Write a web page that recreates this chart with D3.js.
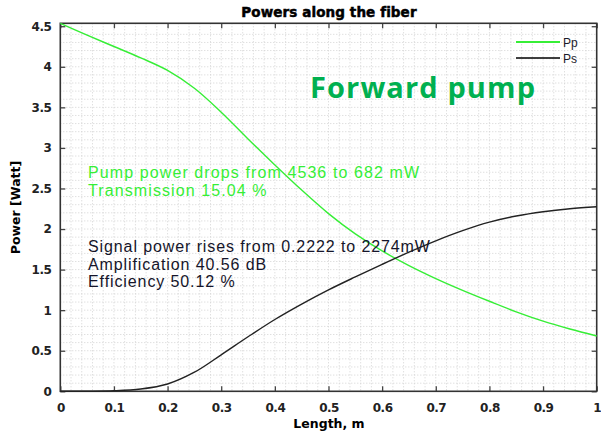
<!DOCTYPE html>
<html lang="en">
<head>
<meta charset="UTF-8">
<title>Powers along the fiber</title>
<script src="https://cdn.jsdelivr.net/npm/d3@7"></script>
<style>
    body { margin: 0; background: #fff; }
</style>
</head>
<body>
<div id="mainContent"></div>
<script>
    // values (length in m, power in W)
    const lengths = [0, 0.05, 0.1, 0.15, 0.2, 0.25, 0.3, 0.35, 0.4, 0.45, 0.5,
        0.55, 0.6, 0.65, 0.7, 0.75, 0.8, 0.85, 0.9, 0.95, 1];
    const pumpPower = [4.536, 4.39, 4.25, 4.11, 3.955, 3.735, 3.44, 3.11, 2.79, 2.48, 2.19,
        1.94, 1.73, 1.55, 1.39, 1.245, 1.11, 0.98, 0.865, 0.768, 0.682];
    const signalPower = [0.0002, 0.001, 0.006, 0.028, 0.09, 0.235, 0.45, 0.672, 0.885, 1.075, 1.25,
        1.41, 1.565, 1.715, 1.855, 1.98, 2.085, 2.16, 2.213, 2.25, 2.274];
    const xTicks = [0, 0.1, 0.2, 0.3, 0.4, 0.5, 0.6, 0.7, 0.8, 0.9, 1];
    const yTicks = [0, 0.5, 1, 1.5, 2, 2.5, 3, 3.5, 4, 4.5];
    const legendNames = ["Pp", "Ps"];
    const pumpNotes = ["Pump power drops from 4536 to 682 mW", "Transmission 15.04 %"];
    const signalNotes = ["Signal power rises from 0.2222 to 2274mW", "Amplification 40.56 dB", "Efficiency 50.12 %"];

    const W = 601, H = 435;
    const margin = {top: 23.3, right: 4.3, bottom: 43.7, left: 60.3};
    const width = W - margin.left - margin.right,
        height = H - margin.top - margin.bottom;

    const pumpColor = "#36ee36";
    const signalColor = "#222222";

    const xScale = d3.scaleLinear().domain([0, 1]).range([0, width]);
    const yScale = d3.scaleLinear().domain([0, 4.536]).range([height, 0]);

    const svg = d3.select("#mainContent").append("svg")
        .attr("width", W).attr("height", H)
        .style("font-family", "'Liberation Sans', Arial, sans-serif");

    const g = svg.append("g")
        .attr("transform", "translate(" + margin.left + "," + margin.top + ")");

    // fine dotted grid
    const grid = g.append("g").attr("class", "grid");
    grid.selectAll(".gx").data(d3.range(0.02, 1, 0.02)).enter()
        .append("line")
        .attr("x1", d => xScale(d)).attr("x2", d => xScale(d))
        .attr("y1", 0).attr("y2", height)
        .attr("stroke", "#d2d2d2").attr("stroke-width", 1)
        .attr("stroke-dasharray", "1,2");
    grid.selectAll(".gy").data(d3.range(0.1, 4.5, 0.1)).enter()
        .append("line")
        .attr("x1", 0).attr("x2", width)
        .attr("y1", d => yScale(d)).attr("y2", d => yScale(d))
        .attr("stroke", "#d2d2d2").attr("stroke-width", 1)
        .attr("stroke-dasharray", "1,2");

    // axes: ticks pointing inwards, on all four sides
    function styleAxis(sel) {
        sel.select(".domain").remove();
        sel.selectAll(".tick line").attr("stroke", "#444").attr("stroke-width", 1.3);
        sel.selectAll(".tick text")
            .attr("fill", "#222")
            .attr("font-size", 12)
            .attr("font-weight", "bold")
            .style("font-family", "'DejaVu Sans', sans-serif")
            .attr("letter-spacing", "-0.5");
    }

    const xAxis = g.append("g").attr("transform", "translate(0," + height + ")")
        .call(d3.axisBottom(xScale).tickValues(xTicks).tickSize(-5).tickPadding(12)
            .tickFormat(d => d.toString()));
    styleAxis(xAxis);

    const yAxis = g.append("g")
        .call(d3.axisLeft(yScale).tickValues(yTicks).tickSize(-5).tickPadding(9)
            .tickFormat(d => d.toString()));
    styleAxis(yAxis);

    const xTop = g.append("g")
        .call(d3.axisTop(xScale).tickValues(xTicks).tickSize(-5).tickFormat(""));
    styleAxis(xTop);
    const yRight = g.append("g").attr("transform", "translate(" + width + ",0)")
        .call(d3.axisRight(yScale).tickValues(yTicks).tickSize(-5).tickFormat(""));
    styleAxis(yRight);

    // frame
    g.append("rect")
        .attr("x", 0).attr("y", 0).attr("width", width).attr("height", height)
        .attr("fill", "none").attr("stroke", "#333").attr("stroke-width", 1.6);

    // curves
    const lineGen = d3.line()
        .x((d, i) => xScale(lengths[i]))
        .y(d => yScale(d))
        .curve(d3.curveCatmullRom.alpha(0.5));

    g.append("path").datum(pumpPower)
        .attr("d", lineGen)
        .attr("fill", "none").attr("stroke", pumpColor).attr("stroke-width", 1.4);
    g.append("path").datum(signalPower)
        .attr("d", lineGen)
        .attr("fill", "none").attr("stroke", signalColor).attr("stroke-width", 1.4);

    // legend
    const legend = svg.append("g").attr("transform", "translate(516,42)");
    legendNames.forEach((name, i) => {
        const row = legend.append("g").attr("transform", "translate(0," + (i * 16) + ")");
        row.append("line").attr("x1", 0).attr("x2", 44).attr("y1", 0).attr("y2", 0)
            .attr("stroke", i === 0 ? pumpColor : "#000").attr("stroke-width", i === 0 ? 2 : 1.5);
        row.append("text").text(name)
            .attr("x", 47).attr("y", 5)
            .attr("font-size", 12).attr("fill", "#1a1a2a");
    });

    // big label
    svg.append("text").text("Forward pump")
        .attr("x", 310).attr("y", 98)
        .attr("font-size", 29).attr("font-weight", "bold")
        .style("font-family", "'Open Sans', Lato, sans-serif")
        .attr("textLength", 225).attr("lengthAdjust", "spacing")
        .attr("fill", "#00b050");

    // notes
    pumpNotes.forEach((t, i) => {
        svg.append("text").text(t)
            .attr("x", 88).attr("y", 177.5 + i * 18.3)
            .attr("font-size", 16).attr("letter-spacing", "1.1")
            .attr("fill", pumpColor);
    });
    signalNotes.forEach((t, i) => {
        svg.append("text").text(t)
            .attr("x", 88).attr("y", 252 + i * 17.5)
            .attr("font-size", 16).attr("letter-spacing", "0.9")
            .attr("fill", "#15152a");
    });

    // titles
    svg.append("text").text("Powers along the fiber")
        .attr("x", 329).attr("y", 17)
        .attr("text-anchor", "middle")
        .attr("font-size", 13.5).attr("font-weight", "bold")
        .style("font-family", "'DejaVu Sans', sans-serif")
        .attr("stroke", "#000").attr("stroke-width", 0.5)
        .attr("letter-spacing", "0.1");

    svg.append("text").text("Length, m")
        .attr("x", 329).attr("y", 428)
        .attr("text-anchor", "middle")
        .attr("font-size", 12.5).attr("font-weight", "bold")
        .style("font-family", "'DejaVu Sans', sans-serif")
        .attr("letter-spacing", "0");

    svg.append("text").text("Power [Watt]")
        .attr("transform", "translate(20,207.5) rotate(-90)")
        .attr("text-anchor", "middle")
        .attr("font-size", 12.5).attr("font-weight", "bold")
        .style("font-family", "'DejaVu Sans', sans-serif")
        .attr("letter-spacing", "0");
</script>
</body>
</html>
